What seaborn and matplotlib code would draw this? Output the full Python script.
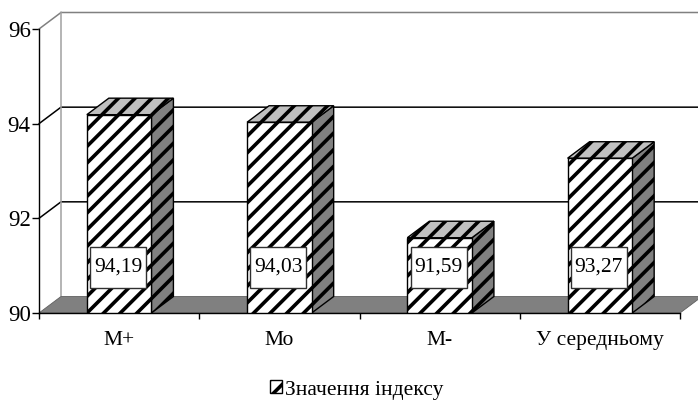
import matplotlib
matplotlib.use('Agg')
import matplotlib.pyplot as plt
import seaborn as sns
from matplotlib.patches import Patch, Polygon, Rectangle

categories = ['М+', 'Мо', 'М-', 'У середньому']
values = [94.19, 94.03, 91.59, 93.27]
value_labels = ['94,19', '94,03', '91,59', '93,27']
y_ticks = [90, 92, 94, 96]
legend_label = 'Значення індексу'

sns.set_theme(style='white')
plt.rcParams['font.family'] = ['Liberation Serif', 'DejaVu Serif']
plt.rcParams['hatch.linewidth'] = 2.6
plt.rcParams['hatch.color'] = 'black'

fig = plt.figure(figsize=(6.98, 4), dpi=100)
ax = fig.add_axes([39 / 698, 87 / 400, 641 / 698, 284 / 400])

sns.barplot(x=categories, y=values, width=0.403, color='white', saturation=1,
            edgecolor='black', linewidth=1, hatch='//', zorder=5, ax=ax)
ax.set_xlim(-0.5, 3.5)
ax.set_ylim(90, 96)

# fake 3d depth, in data units
dx = 22 / 160.25
dy = 16.5 / 47.33
x0, x1 = ax.get_xlim()
y0, y1 = ax.get_ylim()

# back wall and gridlines
for t in y_ticks[1:]:
    col = '#808080' if t == y1 else 'black'
    ax.plot([x0, x0 + dx, x1 + dx], [t, t + dy, t + dy], color=col, lw=1.1, clip_on=False, zorder=1)
ax.plot([x0 + dx, x0 + dx], [y0 + dy, y1 + dy], color='#a0a0a0', lw=1.1, clip_on=False, zorder=1)

# floor
ax.add_patch(Polygon([(x0, y0), (x0 + dx, y0 + dy), (x1 + dx, y0 + dy), (x1, y0)],
                     facecolor='#808080', edgecolor='#606060', lw=0.6, clip_on=False, zorder=2))

for bar, label in zip(ax.patches[:4], value_labels):
    left = bar.get_x()
    right = left + bar.get_width()
    top = bar.get_height()
    # side face
    ax.add_patch(Polygon([(right, y0), (right + dx, y0 + dy), (right + dx, top + dy), (right, top)],
                         facecolor='#808080', edgecolor='black', lw=1, hatch='//', clip_on=False, zorder=4))
    # top face
    ax.add_patch(Polygon([(left, top), (left + dx, top + dy), (right + dx, top + dy), (right, top)],
                         facecolor='#c0c0c0', edgecolor='black', lw=1, hatch='//', clip_on=False, zorder=4))
    # value box
    mid = left + bar.get_width() / 2
    ax.add_patch(Rectangle((mid - 29 / 160.25, 90.53), 56 / 160.25, 41 / 47.33,
                           facecolor='white', edgecolor='#303030', lw=1, zorder=6))
    ax.text(mid - 1 / 160.25, 90.97, label, ha='center', va='center', fontsize=15.5, color='black', zorder=7)

sns.despine(ax=ax)
for side in ['left', 'bottom']:
    ax.spines[side].set_color('black')
    ax.spines[side].set_linewidth(1)
    ax.spines[side].set_zorder(8)

ax.set_yticks(y_ticks)
ax.set_yticklabels([str(t) for t in y_ticks], fontsize=16.5, color='black')
ax.tick_params(axis='y', left=True, length=5, width=1, color='black', pad=1)
ax.set_xticks(range(len(categories)))
ax.set_xticklabels(categories, fontsize=15.5, color='black')
ax.tick_params(axis='x', which='major', bottom=False, pad=7)
ax.set_xticks([i - 0.5 for i in range(len(categories) + 1)], minor=True)
ax.tick_params(axis='x', which='minor', bottom=True, length=4, width=1, color='black')

handle = Patch(facecolor='white', edgecolor='black', hatch='//', lw=1)
fig.legend(handles=[handle], labels=[legend_label], loc='center', bbox_to_anchor=(357 / 698, 1 - 390 / 400),
           frameon=False, fontsize=15.5, handlelength=0.55, handleheight=0.55, handletextpad=0.15,
           labelcolor='black')

fig.savefig('out.png', dpi=100)
